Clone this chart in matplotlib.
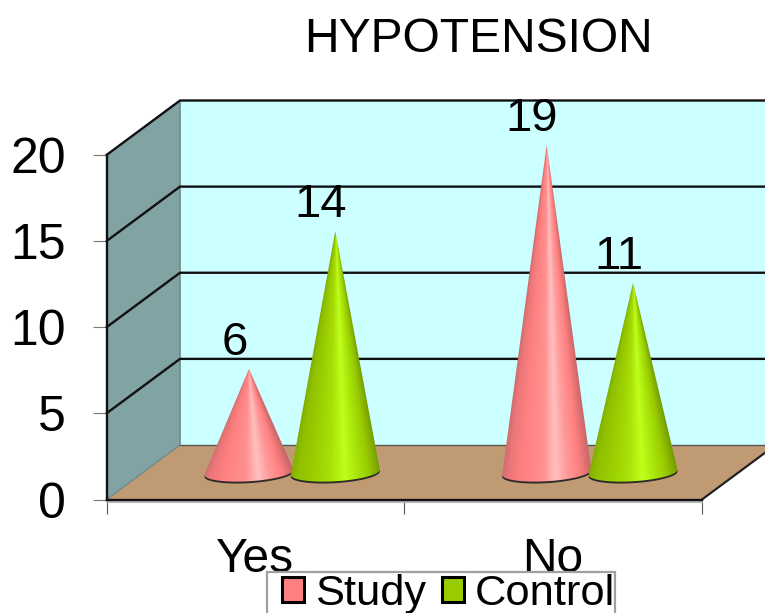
import numpy as np
import matplotlib
matplotlib.use("Agg")
import matplotlib.pyplot as plt
from matplotlib.colors import LinearSegmentedColormap
from matplotlib.patches import Patch, PathPatch, Polygon, Rectangle
from matplotlib.path import Path

plt.rcParams["font.family"] = ["Liberation Sans", "DejaVu Sans"]

# Hypotension counts per group
categories = ["Yes", "No"]
study = [6, 19]
control = [14, 11]
y_ticks = [0, 5, 10, 15, 20]
chart_title = "HYPOTENSION"
series_names = ["Study", "Control"]

W, H = 765, 613
fig = plt.figure(figsize=(W / 100, H / 100), dpi=100, facecolor="white")

# Axes frame is the front plane of the 3D box (pixel rectangle)
left, right, top, bottom = 106.5, 702.0, 155.0, 499.5
ax = fig.add_axes([left / W, 1 - bottom / H, (right - left) / W, (bottom - top) / H])
ax.set_xlim(0, len(categories))
ax.set_ylim(0, 20)
ax.patch.set_visible(False)

# Oblique projection: depth offset of the rear plane, in data units
px_x = (right - left) / len(categories)
px_y = (bottom - top) / 20
DX, DY = 73.5 / px_x, 54.5 / px_y
FAR = 3.0  # lets the rear plane run past the edge of the figure


def band(points, **kw):
    ax.add_patch(Polygon(points, closed=True, clip_on=False, **kw))


# Walls and floor
band([(DX, DY), (FAR, DY), (FAR, 20 + DY), (DX, 20 + DY)],
     facecolor="#CCFFFF", edgecolor="none", zorder=1)
band([(0, 0), (DX, DY), (DX, 20 + DY), (0, 20)],
     facecolor="#81A3A3", edgecolor="none", zorder=1)
band([(0, 0), (2, 0), (2 + DX, DY), (DX, DY)],
     facecolor="#C09A73", edgecolor="none", zorder=2)

line_kw = dict(clip_on=False, solid_capstyle="round")
ax.plot([DX, DX], [DY, 20 + DY], color="#6F8A8A", lw=1.2, zorder=3, **line_kw)
ax.plot([DX, FAR], [DY, DY], color="#555555", lw=1.0, zorder=3, **line_kw)
ax.plot([0, 2], [-0.12, -0.12], color="#BBBBBB", lw=1.6, zorder=3, **line_kw)
ax.plot([2, 2 + DX], [0, DY], color="#222222", lw=1.6, zorder=3, **line_kw)
ax.plot([0, DX], [0, DY], color="#6F8A8A", lw=1.0, zorder=3, **line_kw)

# Gridlines wrap from the side wall onto the rear wall
for v in y_ticks[1:]:
    ax.plot([0, DX, FAR], [v, v + DY, v + DY], color="#111111", lw=1.7,
            zorder=3, **line_kw)

# Horizontal shading stops across a cone, 0 (left edge) to 1 (right edge)
pink_cmap = LinearSegmentedColormap.from_list("pink_cone", [
    (0.00, "#CF6C6E"), (0.08, "#EC7779"), (0.22, "#FF8080"), (0.46, "#FF9090"),
    (0.60, "#FFC0C0"), (0.72, "#FF9A9A"), (0.86, "#FF8080"), (1.00, "#C76668")])
green_cmap = LinearSegmentedColormap.from_list("green_cone", [
    (0.00, "#85AE00"), (0.08, "#90C000"), (0.22, "#99CC00"), (0.44, "#A8E008"),
    (0.60, "#C0FF1C"), (0.72, "#ACE80C"), (0.86, "#99CC00"), (1.00, "#769C00")])

RADIUS = 44.5 / px_x
MINOR = 9.0 / px_y
TILT = 2.6 / px_y  # the base ellipse leans up to the right
GAP = 0.145
DEPTH = 0.5


def base_edge(cx, y0, t):
    x = cx + RADIUS * np.cos(t)
    y = y0 + TILT * np.cos(t) + MINOR * np.sin(t)
    return x, y


def draw_cone(cx, y0, value, cmap, z):
    apex = y0 + value
    # Thin dark rim under the front of the base
    t = np.linspace(0, 2 * np.pi, 120)
    rx, ry = base_edge(cx, y0 - 0.11, t)
    ax.fill(rx, ry, color="#2E2A28", lw=0, zorder=z, clip_on=False)

    t = np.linspace(np.pi, 2 * np.pi, 80)
    bx, by = base_edge(cx, y0, t)
    verts = np.vstack([[cx, apex], np.column_stack([bx, by]), [cx, apex]])
    outline = PathPatch(Path(verts, closed=True), transform=ax.transData,
                        facecolor="none", edgecolor="none", clip_on=False)
    ax.add_patch(outline)

    # Shading follows the cone's slant, converging on the apex
    xs = np.linspace(cx - RADIUS, cx + RADIUS, 260)
    ys = np.linspace(y0 - MINOR - TILT, apex, 520)
    gx, gy = np.meshgrid(xs, ys)
    frac = np.clip(1 - (gy - y0) / value, 0.004, None)
    u = np.clip((gx - cx) / (RADIUS * frac), -1, 1)
    img = ax.imshow((u + 1) / 2, cmap=cmap, vmin=0, vmax=1, origin="lower",
                    extent=[xs[0], xs[-1], ys[0], ys[-1]], aspect="auto",
                    zorder=z + 0.1, interpolation="bilinear")
    img.set_clip_box(fig.bbox)
    img.set_clip_path(outline)

    # Value label sits up and to the left of the tip
    ax.annotate(str(value), (cx, apex), xytext=(-10.5, 18.5), textcoords="offset points",
                ha="center", va="center", fontsize=34, color="black",
                zorder=10, annotation_clip=False)


z = 4
for i in range(len(categories)):
    centre = i + 0.5 + DEPTH * DX
    draw_cone(centre - GAP, DEPTH * DY, study[i], pink_cmap, z)
    draw_cone(centre + GAP, DEPTH * DY, control[i], green_cmap, z + 1)
    z += 2

ax.set_xlim(0, len(categories))
ax.set_ylim(0, 20)

# Axes, ticks and labels
for name in ("top", "right"):
    ax.spines[name].set_visible(False)
for name in ("left", "bottom"):
    ax.spines[name].set_linewidth(1.7)
    ax.spines[name].set_color("#111111")
    ax.spines[name].set_zorder(3.5)

ax.set_yticks(y_ticks)
ax.tick_params(axis="y", length=10, width=0.8, color="#777777", labelsize=36, pad=19,
               labelcolor="black")
ax.set_xticks(range(len(categories) + 1))
ax.set_xticklabels([])
ax.tick_params(axis="x", which="major", length=10, width=0.8, color="#555555")
ax.set_xticks([i + 0.5 for i in range(len(categories))], labels=categories, minor=True)
ax.tick_params(axis="x", which="minor", length=0, labelsize=34.5, pad=27, labelcolor="black")

fig.text(478 / W, 1 - 40 / H, chart_title, ha="center", va="center",
         fontsize=34.6, color="black")

# Legend frame runs off the lower edge of the figure and covers the label tails
fig.add_artist(Rectangle((267 / W, -0.02), 348 / W, 0.02 + (H - 572) / H,
                         transform=fig.transFigure, facecolor="white",
                         edgecolor="#A0A0A0", linewidth=1.6, zorder=19))
handles = [Patch(facecolor="#FF8080", edgecolor="black", linewidth=2.2),
           Patch(facecolor="#99CC00", edgecolor="black", linewidth=2.2)]
leg = fig.legend(handles, series_names, ncol=2, loc="lower left",
                 bbox_to_anchor=(282 / W, -1 / H), borderaxespad=0, fontsize=31.2,
                 handlelength=0.5, handleheight=0.5, handletextpad=0.26,
                 columnspacing=0.37, borderpad=0, frameon=False, labelcolor="black")
leg.set_zorder(20)

fig.savefig("out.png", dpi=100)
